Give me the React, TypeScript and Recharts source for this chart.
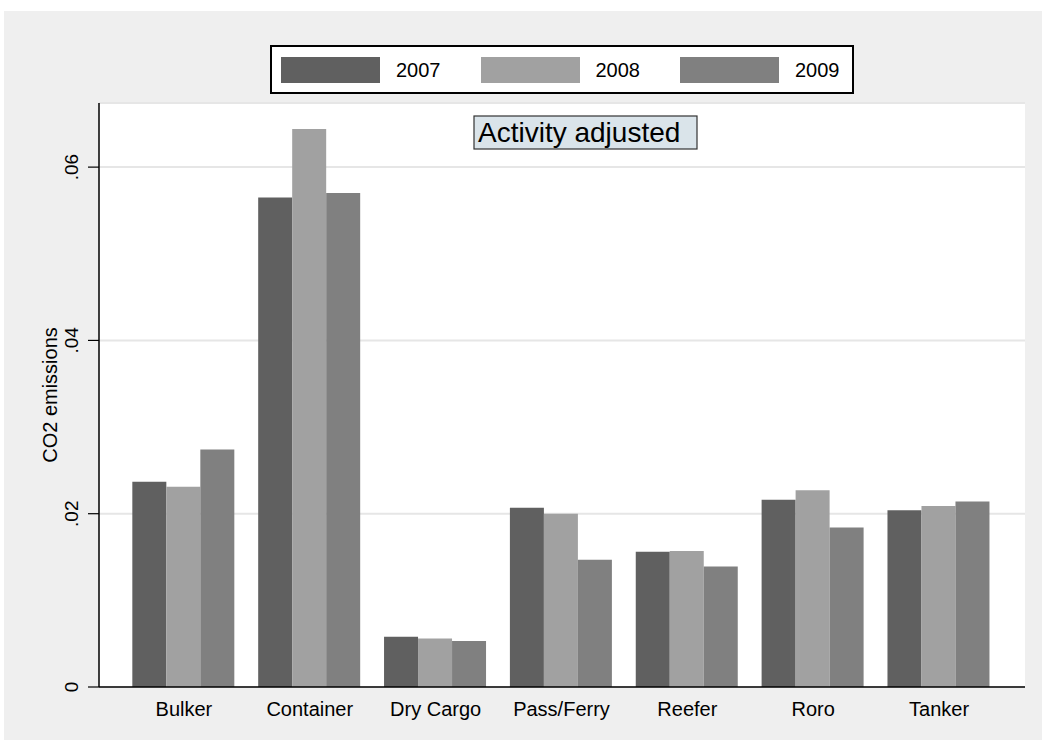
import { BarChart, Bar, XAxis, YAxis, CartesianGrid, Legend, Customized } from 'recharts'

const categories = ['Bulker', 'Container', 'Dry Cargo', 'Pass/Ferry', 'Reefer', 'Roro', 'Tanker']
const y2007 = [0.0237, 0.0565, 0.0058, 0.0207, 0.0156, 0.0216, 0.0204]
const y2008 = [0.0231, 0.0644, 0.0056, 0.02, 0.0157, 0.0227, 0.0209]
const y2009 = [0.0274, 0.057, 0.0053, 0.0147, 0.0139, 0.0184, 0.0214]
const yTicks = [0, 0.02, 0.04, 0.06]

const series = [
  { key: 'y2007', name: '2007', color: '#606060' },
  { key: 'y2008', name: '2008', color: '#a1a1a1' },
  { key: 'y2009', name: '2009', color: '#808080' },
]

const data = categories.map((c, i) => ({ cat: c, y2007: y2007[i], y2008: y2008[i], y2009: y2009[i] }))

const FONT = '"Liberation Sans", Arial, sans-serif'

const fmt = (v: number) => (v === 0 ? '0' : v.toFixed(2).replace(/^0/, ''))

function YTick({ y, payload }: any) {
  return (
    <text
      transform={`translate(78, ${y}) rotate(-90)`}
      textAnchor="middle"
      fontSize={19}
      fontFamily={FONT}
      fill="#000"
    >
      {fmt(payload.value)}
    </text>
  )
}

function XTick({ x, payload }: any) {
  return (
    <text x={x} y={716} textAnchor="middle" fontSize={20} fontFamily={FONT} fill="#000">
      {payload.value}
    </text>
  )
}

function LegendBox() {
  return (
    <div
      style={{
        position: 'relative',
        width: 584,
        height: 49,
        boxSizing: 'border-box',
        border: '2px solid #000',
        background: '#fff',
        fontFamily: FONT,
      }}
    >
      {series.map((s, i) => (
        <div key={s.key}>
          <div
            style={{
              position: 'absolute',
              left: 9 + i * 199.5,
              top: 10,
              width: 99,
              height: 26,
              background: s.color,
            }}
          />
          <div
            style={{
              position: 'absolute',
              left: 124 + i * 199.5,
              top: 10,
              fontSize: 20,
              lineHeight: '26px',
              color: '#000',
            }}
          >
            {s.name}
          </div>
        </div>
      ))}
    </div>
  )
}

function Extras() {
  return (
    <g fontFamily={FONT}>
      <text transform="translate(57, 395) rotate(-90)" textAnchor="middle" fontSize={20} fill="#000">
        CO2 emissions
      </text>
      <rect x={474} y={116} width={223} height={33} fill="#dae4ea" stroke="#333" strokeWidth={1.2} />
      <text x={478} y={142} fontSize={28} fill="#000">
        Activity adjusted
      </text>
    </g>
  )
}

export default function App() {
  return (
    <div style={{ position: 'absolute', left: 0, top: 0, width: 1042, height: 740, background: '#fff' }}>
      <div style={{ position: 'absolute', left: 4, top: 11, width: 1038, height: 729, background: '#efefef' }} />
      <div style={{ position: 'absolute', left: 0, top: 0 }}>
        <BarChart
          width={1042}
          height={740}
          data={data}
          margin={{ top: 103, right: 17, bottom: 23, left: 39 }}
          barGap={0}
          barCategoryGap="9%"
        >
          <CartesianGrid vertical={false} fill="#fff" stroke="#e6e6e6" strokeWidth={2} />
          <XAxis
            dataKey="cat"
            height={30}
            padding={{ left: 22, right: 23 }}
            tickLine={false}
            axisLine={{ stroke: '#000', strokeWidth: 1.5 }}
            tick={<XTick />}
            interval={0}
          />
          <YAxis
            width={60}
            domain={[0, 0.0674]}
            ticks={yTicks}
            tickSize={11}
            tickLine={{ stroke: '#000', strokeWidth: 1.2 }}
            axisLine={{ stroke: '#000', strokeWidth: 1.5 }}
            tick={<YTick />}
          />
          <Legend
            layout="horizontal"
            verticalAlign="middle"
            align="center"
            content={() => <LegendBox />}
            wrapperStyle={{ position: 'absolute', left: 270, top: 45, width: 584, height: 49 }}
          />
          {series.map((s) => (
            <Bar key={s.key} dataKey={s.key} name={s.name} fill={s.color} isAnimationActive={false} />
          ))}
          <Customized component={Extras} />
        </BarChart>
      </div>
    </div>
  )
}
